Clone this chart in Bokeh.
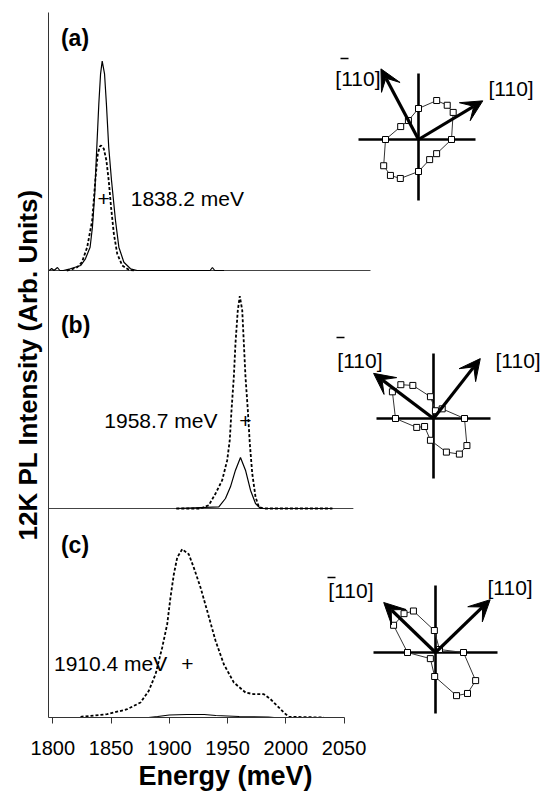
import math
from bokeh.plotting import figure
from bokeh.models import Range1d, FixedTicker, Arrow, VeeHead, Title
from bokeh.core.properties import value
from bokeh.embed import file_html
from bokeh.resources import INLINE

# ---------------- data ----------------
energy_ticks = [1800, 1850, 1900, 1950, 2000, 2050]
panel_tags = ["(a)", "(b)", "(c)"]
peak_labels = ["1838.2 meV", "1958.7 meV", "1910.4 meV"]
dir_label = "[110]"

# panel (a) spectra (meV, arb. units)
a_solid_E = [1797, 1799, 1801, 1804, 1806, 1809, 1815, 1824, 1828, 1832, 1834, 1836, 1837.5, 1839.5,
             1841, 1842.4, 1844.4, 1846, 1848, 1850.4, 1853.8, 1856.7, 1861, 1866.7, 1872.4, 1935,
             1937, 1939, 1947]
a_solid_I = [0, 2, 0, 3, 0, 0, 1.7, 5, 11.7, 23.3, 43.3, 76.7, 116.7, 166.7, 196.7, 209.3, 196.7,
             166.7, 123.3, 90, 50, 23.3, 8.3, 1.7, 0, 0, 3, 0, 0]
a_dot_E = [1812, 1815, 1821, 1825, 1829.5, 1833.8, 1836.7, 1838.6, 1840.4, 1841.5, 1843.8, 1846,
           1848, 1850, 1852.4, 1855.3, 1859.6, 1865.3, 1870]
a_dot_I = [0, 0.7, 3.3, 8.3, 23.3, 50, 93.3, 116.7, 124, 125, 121.7, 110, 90, 63.3, 36.7, 16.7,
           5, 0.7, 0]

# panel (b) spectra
b_solid_E = [1906, 1942.5, 1948.2, 1952.5, 1956.8, 1961.1, 1965.4, 1969.7, 1974, 1978.3, 2040]
b_solid_I = [0, 1.7, 10, 21.7, 38.3, 51, 38.3, 18.3, 5, 0, 0]
b_dot_E = [1906, 1926.8, 1933.9, 1939.7, 1945.4, 1949.7, 1951.9, 1953.4, 1955.4, 1956.8, 1958.8,
           1960.5, 1962.6, 1964, 1965.4, 1967.4, 1969.1, 1971.2, 1974, 1976.8, 1981, 2040]
b_dot_I = [0, 0, 3.3, 15, 28.3, 48.3, 68.3, 98.3, 131.7, 165, 198.3, 212.3, 198.3, 165, 131.7,
           98.3, 65, 35, 11.7, 1.7, 0, 0]

# panel (c) spectra
c_solid_E = [1882, 1890, 1900, 1915, 1930, 1940, 1960, 1985, 1990]
c_solid_I = [0, 1, 2.5, 3, 3, 2, 1, 0.5, 0]
c_dot_E = [1823.8, 1846.7, 1863.9, 1875.3, 1882.4, 1888.2, 1893.9, 1898.2, 1901, 1903.9, 1906.8,
           1911.1, 1916.7, 1921, 1926.8, 1932.5, 1939.7, 1946.8, 1955.4, 1965.4, 1972.5, 1981.1,
           1986.9, 1992.6, 1998.3, 2002.6, 2032.6]
c_dot_I = [0.7, 3.3, 8.3, 15, 26.7, 43.3, 70, 93.3, 120, 143.3, 160, 168.3, 163.3, 150, 130, 106.7,
           76.7, 53.3, 35, 25, 23.3, 23.3, 18.3, 11.7, 5, 0.7, 0]

# polarization insets: angle (deg) and intensity
pol_a_deg = [180, 144, 118, 90, 65, 50, 38, 0, -38, -61, -90, -115, -128, -143]
pol_a_int = [33, 22, 21.5, 31, 43, 44.7, 44, 33, 23, 23, 32, 43, 45.6, 43.6]
pol_b_deg = [180, 147, 134, 122, 98, 76, 48, 0, -39, -54, -69, -98, -138, -152]
pol_b_int = [38, 49, 47, 39, 22, 8, 13, 31, 43, 44, 36, 22, 12, 19]
pol_c_deg = [180, 147, 129, 118, 93, 37, 0, -35, -52, -64, -92, -130]
pol_c_int = [28, 50, 50, 47, 22, 5, 28, 49, 52, 48, 24, 8]

# crystal direction arrows in each inset (deg)
arrow_110_deg = [31, 52, 44]
arrow_1m10_deg = [118, 143, 136]

# ---------------- layout / style ----------------
FONT = "Liberation Sans"
W, H = 553, 798
LEFT, TOP, BOTTOM = 48, 12, 81
FRAME_W, FRAME_H = W - LEFT, H - TOP - BOTTOM
X0, X1 = 1796.3, 2229.8
base = [447, 209, 0]

p = figure(width=W, height=H, x_range=Range1d(X0, X1), y_range=Range1d(0, FRAME_H),
           output_backend="svg", toolbar_location=None,
           min_border_left=LEFT, min_border_right=0, min_border_top=TOP, min_border_bottom=BOTTOM)
p.outline_line_color = None
p.grid.visible = False

xa = p.xaxis[0]
xa.ticker = FixedTicker(ticks=energy_ticks)
xa.bounds = (X0, 2050)
xa.major_tick_in = 0
xa.major_tick_out = 6
xa.minor_tick_line_color = None
xa.axis_line_color = "#333333"
xa.major_tick_line_color = "#333333"
xa.major_label_text_font = FONT
xa.major_label_text_font_size = "20px"
xa.major_label_text_color = "black"
xa.major_label_standoff = 17

p.add_layout(Title(text="Energy (meV)", align="left", offset=90, standoff=2,
                   text_font=FONT, text_font_style="bold", text_font_size="27px",
                   text_color="black"), "below")

ya = p.yaxis[0]
ya.ticker = FixedTicker(ticks=[])
ya.major_tick_out = 0
ya.major_tick_in = 0
ya.minor_tick_line_color = None
ya.major_label_standoff = 0
ya.axis_line_color = "#333333"
ya.axis_label = "12K PL Intensity (Arb. Units)"
ya.axis_label_text_font = FONT
ya.axis_label_text_font_style = "bold"
ya.axis_label_text_font_size = "26px"
ya.axis_label_text_color = "black"
ya.axis_label_standoff = 6

# panel separators (baselines)
p.segment(x0=[X0, X0], x1=[2072.7, 2058], y0=base[:2], y1=base[:2], line_color="#444444", line_width=1)

spectra = [
    (a_solid_E, a_solid_I, a_dot_E, a_dot_I),
    (b_solid_E, b_solid_I, b_dot_E, b_dot_I),
    (c_solid_E, c_solid_I, c_dot_E, c_dot_I),
]
for k, (sE, sI, dE, dI) in enumerate(spectra):
    p.line(sE, [base[k] + v for v in sI], line_color="black", line_width=1.2)
    p.line(dE, [base[k] + v for v in dI], line_color="black", line_width=1.8, line_dash="3 2")

# panel tags
p.text(x=[1807] * 3, y=[680, 393, 173], text=panel_tags, text_font=value(FONT),
       text_font_style="bold", text_font_size="23px", text_baseline="middle", text_align="left")

# peak labels and crosses
lab_x = [1866.9, 1941.4, 1801.0]
lab_y = [base[0] + 72, base[1] + 88, base[2] + 54]
lab_align = ["left", "right", "left"]
for k in range(3):
    p.text(x=[lab_x[k]], y=[lab_y[k]], text=[peak_labels[k]], text_font=value(FONT),
           text_font_size="21px", text_baseline="middle", text_align=lab_align[k])
p.text(x=[1843.6, 1965.4, 1915.5], y=lab_y, text=["+", "+", "+"], text_font=value(FONT),
       text_font_size="21px", text_baseline="middle", text_align="center")

# ---------------- insets ----------------
insets = [
    dict(c=(418, 139), cross=(60, 57, 66, 61), alen=(75, 80), pol=(pol_a_deg, pol_a_int),
         rlab=(70, 51), llab=(-38, 61), bar=(-74, 81)),
    dict(c=(433, 418), cross=(57, 57, 65, 60), alen=(76, 75), pol=(pol_b_deg, pol_b_int),
         rlab=(62, 58), llab=(-51, 58), bar=(-93, 81)),
    dict(c=(435, 652), cross=(62, 62, 67, 61), alen=(76, 72), pol=(pol_c_deg, pol_c_int),
         rlab=(52, 65), llab=(-62, 62), bar=(-104, 75)),
]
for k, ins in enumerate(insets):
    cx, cy = ins["c"]
    xn, yn = "ix%d" % k, "iy%d" % k
    p.extra_x_ranges[xn] = Range1d(LEFT - cx, W - cx)
    p.extra_y_ranges[yn] = Range1d(cy - (TOP + FRAME_H), cy - TOP)
    kw = dict(x_range_name=xn, y_range_name=yn)
    l, r, u, d = ins["cross"]
    p.segment(x0=[-l, 0], x1=[r, 0], y0=[0, -d], y1=[0, u], line_color="black", line_width=2.6, **kw)
    degs, ints = ins["pol"]
    px = [v * math.cos(math.radians(a)) for a, v in zip(degs, ints)]
    py = [v * math.sin(math.radians(a)) for a, v in zip(degs, ints)]
    p.line(px + px[:1], py + py[:1], line_color="#333333", line_width=1, **kw)
    p.scatter(px, py, marker="square", size=6, fill_color="white", line_color="black", line_width=1, **kw)
    for ang, ln in zip([arrow_110_deg[k], arrow_1m10_deg[k]], ins["alen"]):
        ex = ln * math.cos(math.radians(ang))
        ey = ln * math.sin(math.radians(ang))
        p.add_layout(Arrow(end=VeeHead(size=21, fill_color="black", line_color="black"),
                           x_start=0, y_start=0, x_end=ex, y_end=ey,
                           line_width=3.2, line_color="black", **kw))
    p.text(x=[ins["rlab"][0]], y=[ins["rlab"][1]], text=[dir_label], text_font=value(FONT),
           text_font_size="21px", text_baseline="middle", text_align="left", **kw)
    p.text(x=[ins["llab"][0]], y=[ins["llab"][1]], text=[dir_label], text_font=value(FONT),
           text_font_size="21px", text_baseline="middle", text_align="right", **kw)
    bx, by = ins["bar"]
    p.segment(x0=[bx - 4], x1=[bx + 4], y0=[by], y1=[by], line_color="black", line_width=1.5, **kw)

open("out.html", "w").write(file_html(p, INLINE))
